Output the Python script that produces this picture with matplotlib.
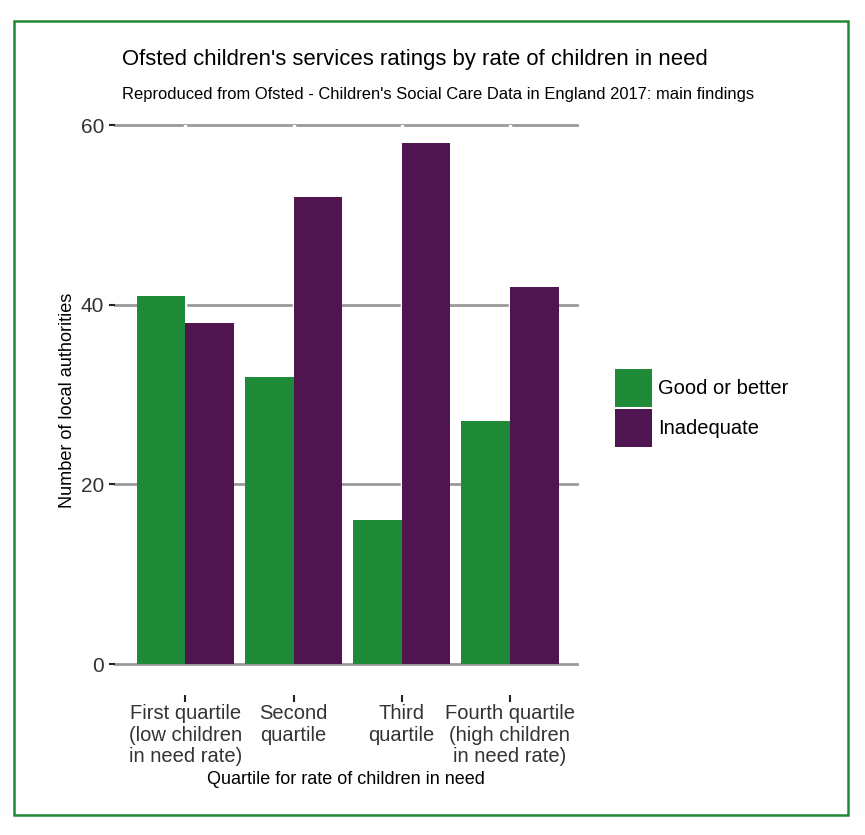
import matplotlib
matplotlib.use("Agg")
import matplotlib.pyplot as plt
from matplotlib.patches import Rectangle, Patch
import numpy as np

plt.rcParams['font.family'] = ['Liberation Sans', 'DejaVu Sans']

categories = ["First quartile\n(low children\nin need rate)", "Second\nquartile",
              "Third\nquartile", "Fourth quartile\n(high children\nin need rate)"]
series_names = ["Good or better", "Inadequate"]
good = [41, 32, 16, 27]
inadequate = [38, 52, 58, 42]
yticks = [0, 20, 40, 60]

GREEN = "#1e8a38"
PURPLE = "#4e1551"

W, H = 865, 835
fig = plt.figure(figsize=(W/100, H/100), dpi=100)
ax = fig.add_axes([115/W, 1-664/H, (577-115)/W, (664-125)/H])

x = np.arange(1, len(categories)+1)
bw = 0.45
ax.bar(x - bw/2, good, width=bw, color=GREEN, zorder=3, label=series_names[0])
ax.bar(x + bw/2, inadequate, width=bw, color=PURPLE, zorder=3, label=series_names[1])

ax.set_xlim(0.35, 4.62)
ax.set_ylim(0, 60)
for v in yticks:
    ax.axhline(v, color="#999999", lw=2, zorder=1, clip_on=False)
for xi in x:
    ax.axvline(xi, color="white", lw=2.5, zorder=2)

for s in ax.spines.values():
    s.set_visible(False)
ax.spines['bottom'].set_position(('outward', 22))
ax.set_yticks(yticks)
ax.set_yticklabels([str(v) for v in yticks], fontsize=15, color="#333333")
ax.set_xticks(x)
ax.set_xticklabels(categories, fontsize=14.5, color="#333333", linespacing=1.17)
ax.tick_params(axis='y', length=4, width=1.5, color="#222222", pad=4)
ax.tick_params(axis='x', length=5, width=1.5, color="#222222", pad=2)
ax.set_ylabel("Number of local authorities", fontsize=13.1)
ax.yaxis.set_label_coords((68 - 115) / (577 - 115), (664 - 400) / (664 - 125))
ax.yaxis.label.set_va('center')
ax.set_xlabel("Quartile for rate of children in need", fontsize=13, labelpad=3)

fig.text(122/W, 1-60/H, "Ofsted children's services ratings by rate of children in need",
         fontsize=15.9, va='center', ha='left')
fig.text(122/W, 1-95/H, "Reproduced from Ofsted - Children's Social Care Data in England 2017: main findings",
         fontsize=11.9, va='center', ha='left')

handles = [Patch(facecolor=GREEN), Patch(facecolor=PURPLE)]
fig.legend(handles, series_names, loc='center left', bbox_to_anchor=(605/W, 1-408/H),
           frameon=False, fontsize=14.5, handlelength=1.85, handleheight=2.6,
           handletextpad=0.3, labelspacing=0.05, borderpad=0)

fig.add_artist(Rectangle((14/W, 1-815/H), (848-14)/W, (815-21)/H, transform=fig.transFigure,
                         fill=False, edgecolor=GREEN, lw=1.8))

fig.savefig("out.png", dpi=100, facecolor="white")
